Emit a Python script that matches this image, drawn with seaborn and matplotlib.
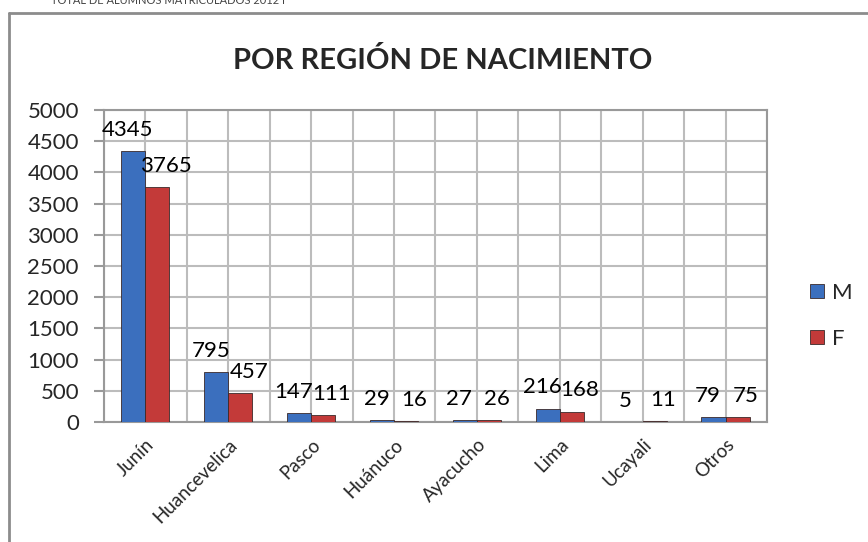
import numpy as np
import pandas as pd
import matplotlib.pyplot as plt
import seaborn as sns
from matplotlib.lines import Line2D

# datos
regiones = ['Junín', 'Huancevelica', 'Pasco', 'Huánuco', 'Ayacucho', 'Lima', 'Ucayali', 'Otros']
hombres = [4345, 795, 147, 29, 27, 216, 5, 79]
mujeres = [3765, 457, 111, 16, 26, 168, 11, 75]
sexos = ['M', 'F']
yticks = list(range(0, 5001, 500))

df = pd.DataFrame({
    'region': regiones * 2,
    'sexo': ['M'] * len(regiones) + ['F'] * len(regiones),
    'alumnos': hombres + mujeres,
})

sns.set_style('white')
plt.rcParams['font.family'] = ['Lato', 'DejaVu Sans']

fig = plt.figure(figsize=(8.68, 5.42), dpi=100)
ax = fig.add_axes([0.1198, 0.2214, 0.7638, 0.5756])

colores = {'M': '#3b6fbe', 'F': '#c33a39'}
sns.barplot(data=df, x='region', y='alumnos', hue='sexo', hue_order=sexos,
            palette=colores, width=0.58, edgecolor='#3a2a2a', linewidth=0.6,
            saturation=1, ax=ax, zorder=3)

# etiquetas de datos (M un poco a la izquierda, F a la derecha)
desplaz = {0: -4, 1: 6}
for i, cont in enumerate(ax.containers):
    for rect, val in zip(cont, cont.datavalues):
        ax.annotate(f'{val:.0f}', (rect.get_x() + rect.get_width() / 2, rect.get_height()),
                    xytext=(desplaz[i], 8), textcoords='offset points',
                    ha='center', va='bottom', fontsize=16, color='black')

ax.set_ylim(0, 5000)
ax.set_xlim(-0.5, len(regiones) - 0.5)
ax.set_yticks(yticks)
ax.set_xticks(np.arange(len(regiones)))
ax.set_xticklabels(regiones, rotation=45, ha='right', rotation_mode='anchor')
ax.set_xticks(np.arange(-0.5, len(regiones), 1.0), minor=True)
ax.tick_params(axis='x', which='major', length=0, labelsize=13.5, pad=10)
ax.tick_params(axis='x', which='minor', length=5, width=1.5, color='#999999', direction='out')
ax.tick_params(axis='y', length=7, width=1.5, color='#999999', labelsize=16, pad=11, left=True)
ax.grid(True, which='both', color='#bcbcbc', linewidth=1.5, zorder=0)
ax.set_axisbelow(True)
for s in ax.spines.values():
    s.set_color('#999999')
    s.set_linewidth(1.5)
ax.set_xlabel('')
ax.set_ylabel('')

# leyenda
h, l = ax.get_legend_handles_labels()
ax.legend(h, l, loc='center left', bbox_to_anchor=(1.035, 0.34), frameon=False,
          fontsize=16, handlelength=0.6, handleheight=0.6, labelspacing=1.2,
          handletextpad=0.4)

fig.text(0.51, 0.889, 'POR REGIÓN DE NACIMIENTO', ha='center', va='center',
         fontsize=21, fontweight='bold')

# marco del gráfico y texto cortado arriba
fig.add_artist(Line2D([9 / 868, 9 / 868], [0, 1 - 13 / 542], transform=fig.transFigure,
                      color='#8c8c8c', linewidth=2))
fig.add_artist(Line2D([9 / 868, 1], [1 - 13 / 542, 1 - 13 / 542], transform=fig.transFigure,
                      color='#8c8c8c', linewidth=2))
fig.text(285 / 868, 0.999, 'TOTAL DE ALUMNOS MATRICULADOS 2012 I', ha='right', va='center',
         fontsize=8, color='#444444')

plt.savefig('out.png', dpi=100)
